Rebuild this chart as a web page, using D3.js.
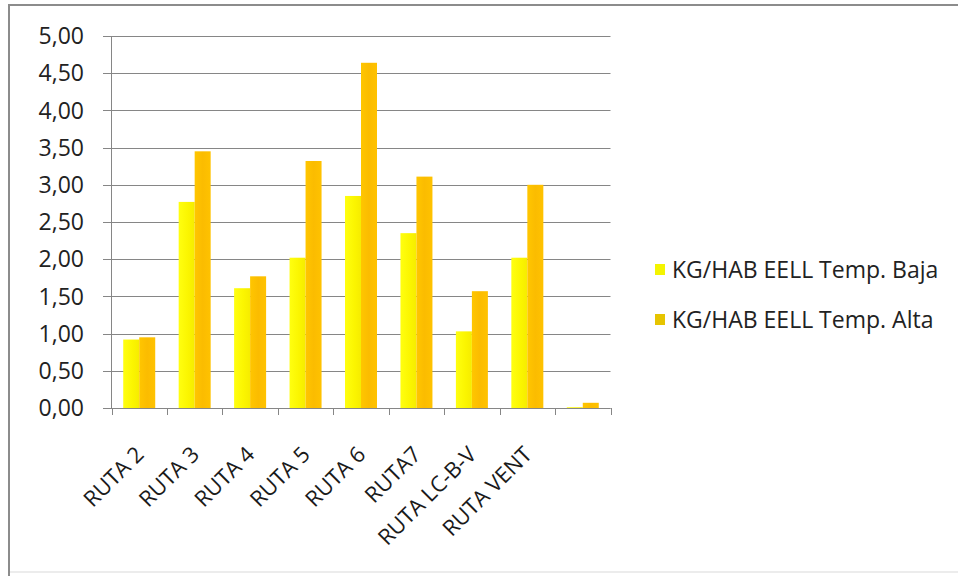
<!DOCTYPE html>
<html><head><meta charset="utf-8">
<script src="https://cdn.jsdelivr.net/npm/d3@7"></script>
<style>body{margin:0;background:#fff}svg{display:block}</style>
</head><body><svg id="c" width="958" height="576"></svg>
<script>
const categories = ["RUTA 2","RUTA 3","RUTA 4","RUTA 5","RUTA 6","RUTA7","RUTA LC-B-V","RUTA VENT",""];
const tempBaja = [0.92,2.77,1.61,2.02,2.85,2.35,1.03,2.02,0.01];
const tempAlta = [0.95,3.45,1.77,3.32,4.64,3.11,1.57,3.00,0.07];
const seriesNames = ["KG/HAB EELL Temp. Baja","KG/HAB EELL Temp. Alta"];
const yTicks = [0,0.5,1,1.5,2,2.5,3,3.5,4,4.5,5];
const fmt = v => v.toFixed(2).replace(".", ",");

const svg = d3.select("#c");
const font = "'Open Sans', sans-serif";
const defs = svg.append("defs");
const g1 = defs.append("linearGradient").attr("id","gy").attr("x1","0").attr("x2","1").attr("y1","0").attr("y2","0");
g1.append("stop").attr("offset","0").attr("stop-color","#ffff10");
g1.append("stop").attr("offset","0.6").attr("stop-color","#fbf500");
g1.append("stop").attr("offset","1").attr("stop-color","#f6ec00");
const g2 = defs.append("linearGradient").attr("id","go").attr("x1","0").attr("x2","1").attr("y1","0").attr("y2","0");
g2.append("stop").attr("offset","0").attr("stop-color","#ffc600");
g2.append("stop").attr("offset","0.5").attr("stop-color","#fbbc00");
g2.append("stop").attr("offset","1").attr("stop-color","#ffc200");
const fills = ["url(#gy)","url(#go)"];

// frame
svg.append("line").attr("x1",9).attr("x2",958).attr("y1",5).attr("y2",5).attr("stroke","#8c8c8c").attr("stroke-width",2);
svg.append("line").attr("x1",9).attr("x2",9).attr("y1",4).attr("y2",576).attr("stroke","#8c8c8c").attr("stroke-width",2);
svg.append("line").attr("x1",10).attr("x2",958).attr("y1",572).attr("y2",572).attr("stroke","#e6e6e6").attr("stroke-width",1.5);

const x = d3.scaleBand().domain(d3.range(categories.length)).range([111.5,610.5]).paddingInner(0).paddingOuter(0);
const y = d3.scaleLinear().domain([0,5]).range([408,36]);

// gridlines
svg.append("g").selectAll("line").data(yTicks).join("line")
  .attr("x1",103).attr("x2",610.5).attr("y1",d=>Math.round(y(d))+0.5).attr("y2",d=>Math.round(y(d))+0.5)
  .attr("stroke","#868686").attr("stroke-width",1);

// y labels
svg.append("g").selectAll("text").data(yTicks).join("text")
  .attr("x",84).attr("y",d=>y(d)).attr("dy","0.36em").attr("text-anchor","end")
  .attr("font-family",font).attr("font-size",23).attr("fill","#222")
  .text(fmt);

// bars
const bw = 16;
[tempBaja,tempAlta].forEach((vals,si)=>{
  svg.append("g").selectAll("rect").data(vals).join("rect")
    .attr("x",(d,i)=>x(i)+x.bandwidth()/2-bw+si*bw)
    .attr("y",d=>y(d)).attr("width",bw).attr("height",d=>y(0)-y(d))
    .attr("fill",fills[si]);
});

// axes
svg.append("line").attr("x1",111.5).attr("x2",111.5).attr("y1",36).attr("y2",408).attr("stroke","#868686");
svg.append("line").attr("x1",111.5).attr("x2",610.5).attr("y1",408.5).attr("y2",408.5).attr("stroke","#868686");
svg.append("g").selectAll("line").data(d3.range(categories.length+1)).join("line")
  .attr("x1",i=>Math.round(111.5+i*x.bandwidth())+0.5).attr("x2",i=>Math.round(111.5+i*x.bandwidth())+0.5)
  .attr("y1",408).attr("y2",415).attr("stroke","#868686");

// x labels
svg.append("g").selectAll("text").data(categories).join("text")
  .attr("transform",(d,i)=>`translate(${x(i)+x.bandwidth()/2-5},${445}) rotate(-45)`)
  .attr("text-anchor","end").attr("dy","0.7em")
  .attr("font-family",font).attr("font-size",22).attr("fill","#1a1a1a")
  .text(d=>d);

// legend
const lg = svg.append("g");
seriesNames.forEach((n,i)=>{
  const cy = 270 + i*50;
  lg.append("rect").attr("x",655).attr("y",cy-6).attr("width",10).attr("height",11).attr("fill",i===0?"#f4f400":"#e6c400");
  lg.append("text").attr("x",672).attr("y",cy).attr("dy","0.36em")
    .attr("font-family",font).attr("font-size",23).attr("fill","#222").text(n);
});
</script></body></html>
